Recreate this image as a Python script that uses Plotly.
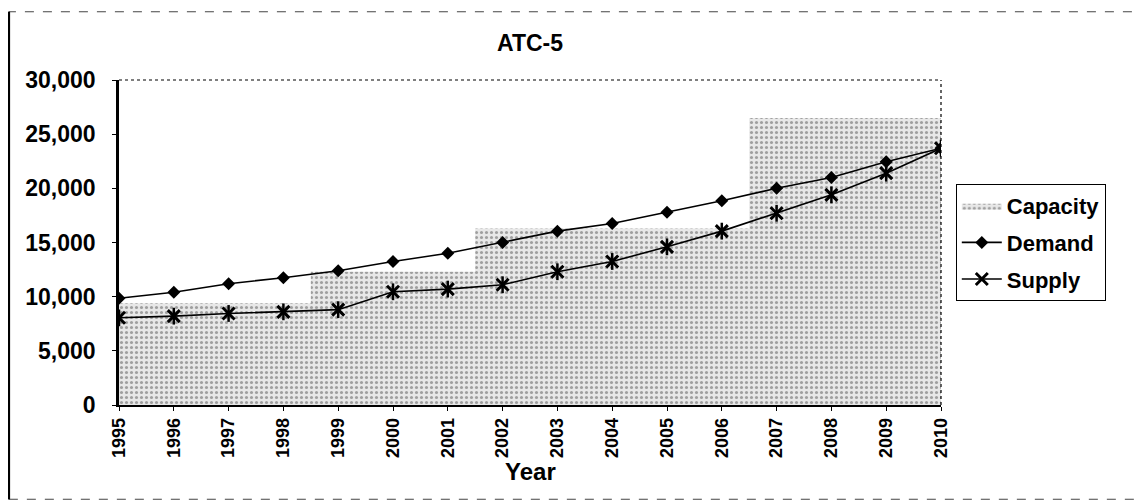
import plotly.graph_objects as go

years = [1995, 1996, 1997, 1998, 1999, 2000, 2001, 2002, 2003, 2004, 2005, 2006, 2007, 2008, 2009, 2010]
capacity = [9400, 9400, 9400, 9400, 12300, 12300, 12300, 16300, 16300, 16300, 16300, 16300, 26500, 26500, 26500, 26500]
demand = [9850, 10400, 11200, 11750, 12400, 13250, 14000, 15000, 16050, 16750, 17800, 18850, 20000, 21000, 22450, 23700]
supply = [8050, 8200, 8450, 8600, 8800, 10450, 10700, 11100, 12300, 13250, 14600, 16050, 17700, 19400, 21400, 23700]
year_labels = [str(y) for y in years]

FONT = "Liberation Sans, Arial, sans-serif"

fig = go.Figure()
fig.add_trace(go.Scatter(
    x=years, y=capacity, name="Capacity", mode="lines",
    line=dict(shape="hvh", width=0, color="#999999"),
    fill="tozeroy", fillcolor="#e6e6e6",
    fillpattern=dict(shape=".", bgcolor="#e8e8e8", fgcolor="#555555", size=5, solidity=0.3),
    legendgroup="c",
))
fig.add_trace(go.Scatter(
    x=years, y=demand, name="Demand", mode="lines+markers",
    line=dict(color="black", width=1.6),
    marker=dict(symbol="diamond", size=10, color="black"),
    legendgroup="d",
))
fig.add_trace(go.Scatter(
    x=years, y=supply, name="Supply", mode="lines+markers",
    line=dict(color="black", width=1.6),
    marker=dict(symbol="x-thin-open", size=12, color="black", line=dict(color="black", width=3)),
    legendgroup="s",
))
fig.add_trace(go.Scatter(
    x=years, y=supply, mode="markers", showlegend=False, hoverinfo="skip",
    marker=dict(symbol="line-ns-open", size=12, color="black", line=dict(color="black", width=2.5)),
    legendgroup="s",
))

shapes = [
    dict(type="line", xref="paper", yref="paper", x0=0, x1=1, y0=1, y1=1,
         line=dict(color="black", width=1.2, dash="dot")),
    dict(type="line", xref="paper", yref="paper", x0=1, x1=1, y0=0, y1=1,
         line=dict(color="black", width=1.2, dash="dot")),
    dict(type="rect", xref="paper", yref="paper", x0=-0.134, x1=1.238, y0=-0.29, y1=1.21,
         line=dict(color="#444444", width=1, dash="dash")),
    dict(type="line", xref="paper", yref="paper", x0=-0.134, x1=-0.134, y0=-0.29, y1=1.21,
         line=dict(color="black", width=2.5)),
]

fig.update_layout(
    width=1143, height=502,
    margin=dict(l=111, r=210, t=72, b=105),
    paper_bgcolor="white", plot_bgcolor="white",
    font=dict(family=FONT, color="black", size=20, weight="bold"),
    title=dict(text="ATC-5", x=0.5, xref="paper", y=1 - 35 / 502, yref="container",
               yanchor="middle", xanchor="center",
               font=dict(family=FONT, size=23, weight="bold", color="black")),
    showlegend=True,
    legend=dict(x=1.018, xanchor="left", y=0.68, yanchor="top",
                bordercolor="black", borderwidth=1, bgcolor="white",
                font=dict(family=FONT, size=22, weight="bold", color="black"),
                tracegroupgap=5, itemwidth=40),
    shapes=shapes,
    annotations=[dict(text="Year", xref="paper", yref="paper", x=0.5, y=-0.206,
                      showarrow=False, xanchor="center", yanchor="middle",
                      font=dict(family=FONT, size=24, weight="bold", color="black"))],
)

fig.update_xaxes(
    range=[1995, 2010], tickmode="array", tickvals=years, ticktext=year_labels,
    tickangle=-90, tickfont=dict(family=FONT, size=18, weight="bold", color="black"),
    showline=True, linecolor="black", linewidth=1.5,
    ticks="outside", ticklen=4, tickcolor="black",
    showgrid=False, zeroline=False,
)
fig.update_yaxes(
    range=[0, 30000], dtick=5000, tickformat=",",
    tickfont=dict(family=FONT, size=23, weight="bold", color="black"),
    showline=True, linecolor="black", linewidth=2.5,
    ticks="outside", ticklen=4, tickcolor="black",
    showgrid=False, zeroline=False, ticklabelstandoff=12,
)

fig.write_html("out.html")
